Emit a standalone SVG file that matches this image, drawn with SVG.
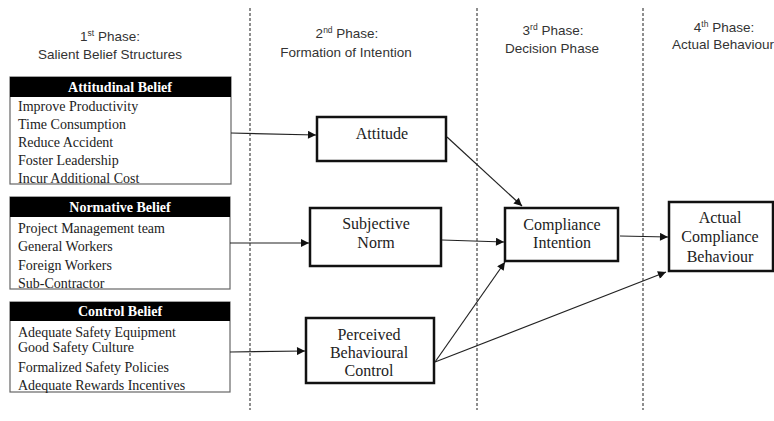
<svg xmlns="http://www.w3.org/2000/svg" width="774" height="421" viewBox="0 0 774 421">
<defs>
<marker id="ah" viewBox="0 0 10 10" refX="10" refY="5" markerWidth="9" markerHeight="8" markerUnits="userSpaceOnUse" orient="auto">
<path d="M0,0 L10,5 L0,10 z" fill="#111"/>
</marker>
<style>
.ph{font-family:"Liberation Sans",Arial,sans-serif;font-size:13.5px;fill:#333;text-anchor:middle}
.sup{font-size:8.5px}
.hd{font-family:"Liberation Serif","Times New Roman",serif;font-size:14px;font-weight:bold;fill:#fff;text-anchor:middle}
.it{font-family:"Liberation Serif","Times New Roman",serif;font-size:14px;fill:#222}
.nt{font-family:"Liberation Serif","Times New Roman",serif;font-size:16px;fill:#222;text-anchor:middle}
.bx{fill:#fff;stroke:#666;stroke-width:1.2}
.band{fill:#000}
.nd{fill:#fff;stroke:#111;stroke-width:2.5}
.dl{stroke:#444;stroke-width:1.2;stroke-dasharray:3,2;fill:none}
.cn{stroke:#222;stroke-width:1.2;fill:none;marker-end:url(#ah)}
</style>
</defs>
<rect width="774" height="421" fill="#fff"/>
<g id="dividers">
<line class="dl" x1="250" y1="8" x2="250" y2="410"/>
<line class="dl" x1="477" y1="8" x2="477" y2="410"/>
<line class="dl" x1="643" y1="8" x2="643" y2="410"/>
</g>
<g id="phases">
<text class="ph" x="110" y="41">1<tspan class="sup" dy="-5">st</tspan><tspan dy="5"> Phase:</tspan></text>
<text class="ph" x="110" y="59">Salient Belief Structures</text>
<text class="ph" x="347" y="38">2<tspan class="sup" dy="-5">nd</tspan><tspan dy="5"> Phase:</tspan></text>
<text class="ph" x="346" y="57">Formation of Intention</text>
<text class="ph" x="553" y="35">3<tspan class="sup" dy="-5">rd</tspan><tspan dy="5"> Phase:</tspan></text>
<text class="ph" x="552" y="53">Decision Phase</text>
<text class="ph" x="724" y="32">4<tspan class="sup" dy="-5">th</tspan><tspan dy="5"> Phase:</tspan></text>
<text class="ph" x="723" y="49">Actual Behaviour</text>
</g>
<g id="attitudinal-belief">
<rect class="bx" x="10" y="77" width="221" height="107"/>
<rect class="band" x="10" y="77" width="221" height="20"/>
<text class="hd" x="120" y="92">Attitudinal Belief</text>
<text class="it" x="18" y="111">Improve Productivity</text>
<text class="it" x="18" y="129">Time Consumption</text>
<text class="it" x="18" y="147">Reduce Accident</text>
<text class="it" x="18" y="165">Foster Leadership</text>
<text class="it" x="18" y="183">Incur Additional Cost</text>
</g>
<g id="normative-belief">
<rect class="bx" x="10" y="197" width="220" height="92"/>
<rect class="band" x="10" y="197" width="220" height="20"/>
<text class="hd" x="120" y="212">Normative Belief</text>
<text class="it" x="18" y="233">Project Management team</text>
<text class="it" x="18" y="251">General Workers</text>
<text class="it" x="18" y="270">Foreign Workers</text>
<text class="it" x="18" y="288">Sub-Contractor</text>
</g>
<g id="control-belief">
<rect class="bx" x="10" y="302" width="220" height="90"/>
<rect class="band" x="10" y="302" width="220" height="19"/>
<text class="hd" x="120" y="316">Control Belief</text>
<text class="it" x="18" y="337">Adequate Safety Equipment</text>
<text class="it" x="18" y="352">Good Safety Culture</text>
<text class="it" x="18" y="372">Formalized Safety Policies</text>
<text class="it" x="18" y="390">Adequate Rewards Incentives</text>
</g>
<g id="attitude">
<rect class="nd" x="317" y="117" width="129" height="44"/>
<text class="nt" x="382" y="139">Attitude</text>
</g>
<g id="subjective-norm">
<rect class="nd" x="310" y="208" width="131" height="58"/>
<text class="nt" x="376" y="229">Subjective</text>
<text class="nt" x="376" y="248">Norm</text>
</g>
<g id="perceived-behavioural-control">
<rect class="nd" x="306" y="318" width="128" height="65"/>
<text class="nt" x="369" y="340">Perceived</text>
<text class="nt" x="369" y="358">Behavioural</text>
<text class="nt" x="369" y="376">Control</text>
</g>
<g id="compliance-intention">
<rect class="nd" x="505" y="208" width="113" height="53"/>
<text class="nt" x="562" y="230">Compliance</text>
<text class="nt" x="562" y="248">Intention</text>
</g>
<g id="actual-compliance-behaviour">
<rect class="nd" x="669" y="202" width="104" height="69"/>
<text class="nt" x="720" y="223">Actual</text>
<text class="nt" x="720" y="242">Compliance</text>
<text class="nt" x="720" y="262">Behaviour</text>
</g>
<g id="connectors">
<line class="cn" x1="231" y1="133" x2="316" y2="135"/>
<line class="cn" x1="230" y1="243" x2="309" y2="243"/>
<line class="cn" x1="230" y1="352" x2="305" y2="351"/>
<line class="cn" x1="447" y1="137" x2="522" y2="206"/>
<line class="cn" x1="442" y1="240" x2="504" y2="242"/>
<line class="cn" x1="435" y1="362" x2="505" y2="262"/>
<line class="cn" x1="435" y1="362" x2="666" y2="272"/>
<line class="cn" x1="620" y1="236" x2="668" y2="237"/>
</g>
</svg>
